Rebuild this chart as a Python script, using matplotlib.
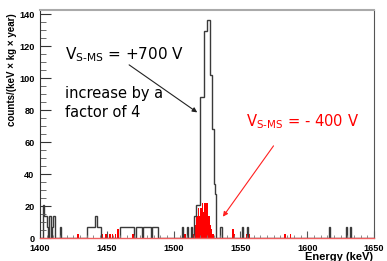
import numpy as np
import matplotlib
matplotlib.use('Agg')
import matplotlib.pyplot as plt
from matplotlib.ticker import MultipleLocator

# spectrum around 1525 keV, 1 keV bins, two S-MS voltages
e_min = 1400
e_max = 1650

# +700 V : bin start (keV) and number of events
gray_unit = 6.8
gray_bins = [1402, 1403, 1404, 1405, 1407, 1409, 1410, 1415,
             1435, 1436, 1437, 1438, 1439, 1440, 1441, 1442, 1443, 1444, 1445,
             1460, 1461, 1462, 1463, 1464, 1465, 1466, 1467, 1468, 1469,
             1472, 1473, 1474, 1475, 1477, 1478, 1479, 1480, 1481, 1482, 1484, 1485, 1486, 1487,
             1506, 1510, 1513, 1515, 1516, 1517, 1518, 1519,
             1520, 1521, 1522, 1523, 1524, 1525, 1526, 1527, 1528, 1529, 1530, 1531,
             1535, 1551, 1555, 1616, 1629, 1632]
gray_counts = [3, 2, 2, 1, 2, 1, 2, 1,
               1, 1, 1, 1, 1, 1, 2, 2, 1, 1, 1,
               1, 1, 1, 1, 1, 1, 1, 1, 1, 1,
               1, 1, 1, 1, 1, 1, 1, 1, 1, 1, 1, 1, 1, 1,
               1, 1, 1, 2, 2, 3, 3, 3,
               13, 13, 13, 19, 19, 20, 20, 15, 15, 10, 5, 4,
               1, 1, 1, 1, 1, 1]

# -400 V
red_unit = 2.72
red_bins = [1406, 1428, 1435, 1446, 1449, 1452, 1454, 1456, 1458, 1460, 1469,
            1508, 1513, 1514, 1515, 1516, 1517, 1518, 1519, 1520, 1521, 1522,
            1523, 1524, 1525, 1526, 1527, 1528, 1529,
            1544, 1545, 1554, 1556, 1583, 1587]
red_counts = [1, 1, 1, 1, 1, 1, 1, 1, 2, 2, 1,
              1, 1, 1, 2, 3, 5, 7, 5, 7, 8, 6,
              8, 8, 8, 5, 3, 2, 1,
              2, 1, 1, 1, 1, 1]

edges = np.arange(e_min, e_max + 1, 1)
h_700 = np.zeros(len(edges) - 1)
h_400 = np.zeros(len(edges) - 1)
for b, c in zip(gray_bins, gray_counts):
    h_700[b - e_min] = c * gray_unit
for b, c in zip(red_bins, red_counts):
    h_400[b - e_min] = c * red_unit

fig = plt.figure(figsize=(3.87, 2.61), dpi=100)
ax = fig.add_axes([40 / 387, 1 - 238 / 261, 334 / 387, 228 / 261])

ax.stairs(h_400, edges, fill=True, color='#ff0000', lw=0)
ax.stairs(h_700, edges, color='#3a3a3a', lw=1.0)

ax.set_xlim(e_min, e_max)
ax.set_ylim(0, 142.5)

ax.xaxis.set_major_locator(MultipleLocator(50))
ax.xaxis.set_minor_locator(MultipleLocator(5))
ax.yaxis.set_major_locator(MultipleLocator(20))
ax.yaxis.set_minor_locator(MultipleLocator(5))
ax.tick_params(axis='x', which='major', direction='in', length=5, width=0.8, color='#555555', pad=4)
ax.tick_params(axis='x', which='minor', direction='in', length=2.5, width=0.6, color='#777777')
ax.tick_params(axis='y', which='major', direction='in', length=8, width=0.8, color='#333333', pad=4)
ax.tick_params(axis='y', which='minor', direction='in', length=4, width=0.6, color='#555555')
ax.tick_params(top=False, right=False)
for lab in ax.get_xticklabels() + ax.get_yticklabels():
    lab.set_fontfamily('Liberation Sans')
    lab.set_fontweight('bold')
    lab.set_fontsize(6.6)

ax.spines['left'].set_color('#333333')
ax.spines['left'].set_linewidth(0.8)
ax.spines['bottom'].set_color('#f06060')
ax.spines['bottom'].set_linewidth(1.0)
ax.spines['top'].set_color('#aaaaaa')
ax.spines['top'].set_linewidth(1.5)
ax.spines['right'].set_color('#555555')
ax.spines['right'].set_linewidth(0.8)

fig.text(12 / 387, 1 - 70 / 261, 'counts/(keV \u00d7 kg \u00d7 year)', rotation=90,
         ha='center', va='center', fontsize=7, fontweight='bold', family='Liberation Sans')
fig.text(373 / 387, 1 - 260 / 261, 'Energy (keV)', ha='right', va='baseline',
         fontsize=8, fontweight='bold', family='Liberation Sans')

# annotations
ax.text(1418.7, 111.7, '$\\mathregular{V_{S\u2010MS}}$ = +700 V', fontsize=11,
        family='DejaVu Sans', color='black', va='baseline')
ax.text(1418.7, 87.3, 'increase by a', fontsize=10.5, family='DejaVu Sans', va='baseline')
ax.text(1418.7, 75.8, 'factor of 4', fontsize=10.5, family='DejaVu Sans', va='baseline')
ax.annotate('', xy=(1519.4, 77.5), xytext=(1465, 109.2),
            arrowprops=dict(arrowstyle='-|>', color='#222222', lw=0.8, mutation_scale=7))

ax.text(1554.5, 69.6, '$\\mathregular{V_{S\u2010MS}}$ = - 400 V', fontsize=10.6,
        family='DejaVu Sans', color='#ff0000', va='baseline')
ax.annotate('', xy=(1535.7, 11.9), xytext=(1576, 59),
            arrowprops=dict(arrowstyle='-|>', color='#ff2020', lw=0.8, mutation_scale=7))

fig.savefig('out.png', dpi=100)
